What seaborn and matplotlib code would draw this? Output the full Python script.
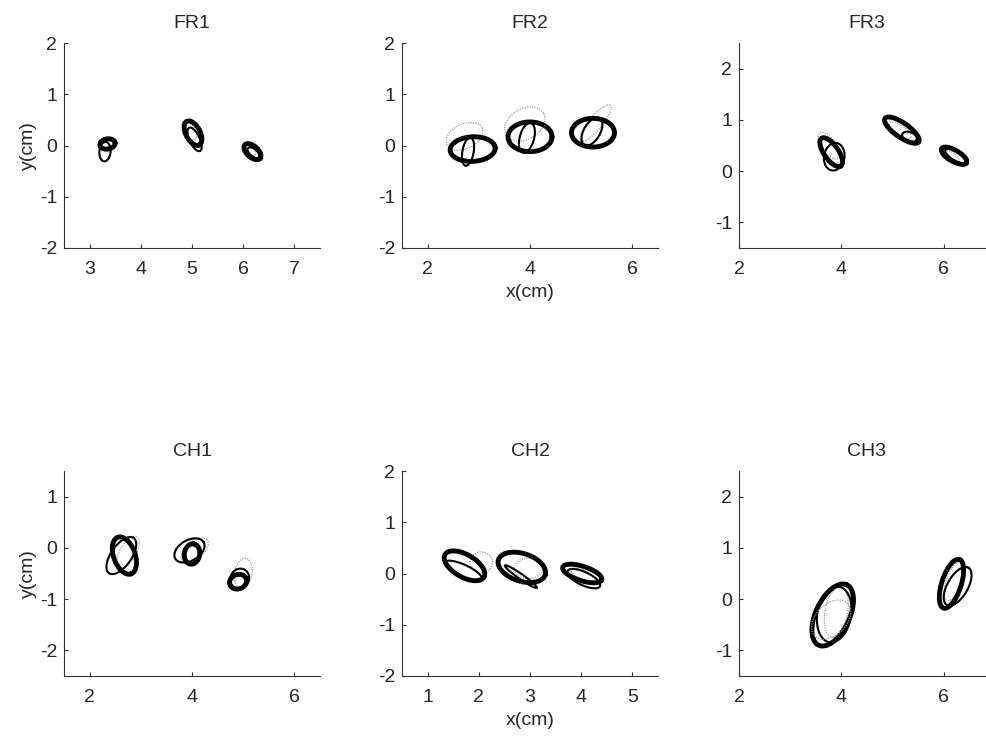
import numpy as np
import pandas as pd
import matplotlib
matplotlib.use("Agg")
import matplotlib.pyplot as plt
import seaborn as sns

# ---------------- data ----------------
panel_names = ["FR1", "FR2", "FR3", "CH1", "CH2", "CH3"]
panel_xlim = [(2.5, 7.5), (1.5, 6.5), (2, 7), (1.5, 6.5), (0.5, 5.5), (2, 7)]
panel_ylim = [(-2, 2), (-2, 2), (-1.5, 2.5), (-2.5, 1.5), (-2, 2), (-1.5, 2.5)]
panel_xticks = [[3, 4, 5, 6, 7], [2, 4, 6], [2, 4, 6], [2, 4, 6], [1, 2, 3, 4, 5], [2, 4, 6]]
panel_yticks = [[-2, -1, 0, 1, 2], [-2, -1, 0, 1, 2], [-1, 0, 1, 2],
                [-2, -1, 0, 1], [-2, -1, 0, 1, 2], [-1, 0, 1, 2]]

# loops: panel, kind, centre x, centre y, semi-axis a, semi-axis b, tilt (deg)
loop_panel = (["FR1"] * 9 + ["FR2"] * 9 + ["FR3"] * 9 +
              ["CH1"] * 9 + ["CH2"] * 9 + ["CH3"] * 7)
loop_kind = ["gray", "thin", "thick"] * 18 + ["thin"]
loop_cx = [3.27, 3.30, 3.35, 4.95, 5.05, 5.02, 6.12, 6.20, 6.18,
           2.72, 2.79, 2.88, 3.90, 3.94, 4.00, 5.28, 5.21, 5.23,
           3.75, 3.86, 3.80, 5.15, 5.33, 5.18, 6.12, 6.25, 6.20,
           2.75, 2.62, 2.68, 4.05, 3.95, 4.00, 5.00, 4.93, 4.90,
           2.05, 1.70, 1.72, 2.97, 2.82, 2.84, 4.10, 4.05, 4.02,
           3.90, 3.86, 3.83, 6.20, 6.27, 6.15, 3.80]
loop_cy = [0.02, -0.12, 0.03, 0.30, 0.12, 0.24, -0.08, -0.14, -0.12,
           0.18, -0.12, -0.07, 0.42, 0.15, 0.17, 0.44, 0.27, 0.25,
           0.50, 0.28, 0.37, 0.80, 0.67, 0.80, 0.28, 0.30, 0.30,
           -0.08, -0.15, -0.15, -0.05, -0.05, -0.12, -0.50, -0.60, -0.66,
           0.22, 0.05, 0.15, 0.10, -0.06, 0.12, -0.04, -0.10, 0.00,
           -0.25, -0.30, -0.31, 0.35, 0.25, 0.30, -0.40]
loop_a = [0.10, 0.19, 0.15, 0.22, 0.25, 0.26, 0.15, 0.14, 0.20,
          0.38, 0.28, 0.44, 0.42, 0.30, 0.43, 0.45, 0.30, 0.42,
          0.30, 0.27, 0.33, 0.25, 0.15, 0.40, 0.20, 0.25, 0.28,
          0.34, 0.42, 0.38, 0.32, 0.32, 0.20, 0.30, 0.20, 0.17,
          0.22, 0.40, 0.44, 0.28, 0.38, 0.48, 0.32, 0.35, 0.40,
          0.50, 0.55, 0.65, 0.40, 0.42, 0.50, 0.45]
loop_b = [0.12, 0.11, 0.10, 0.10, 0.10, 0.14, 0.10, 0.07, 0.11,
          0.24, 0.11, 0.24, 0.30, 0.14, 0.29, 0.13, 0.16, 0.28,
          0.14, 0.20, 0.14, 0.09, 0.09, 0.14, 0.10, 0.10, 0.11,
          0.16, 0.20, 0.21, 0.17, 0.20, 0.15, 0.17, 0.18, 0.14,
          0.20, 0.12, 0.22, 0.20, 0.05, 0.27, 0.10, 0.13, 0.14,
          0.22, 0.33, 0.33, 0.15, 0.20, 0.19, 0.30]
loop_ang = [0, 85, 10, -60, -65, -62, -40, -40, -42,
            25, 80, 3, 30, 75, 0, 50, 60, 0,
            -55, 80, -55, -35, -20, -35, -30, -30, -30,
            60, 55, -70, 40, 30, 80, 80, 60, 20,
            0, -25, -30, 0, -35, -18, -20, -25, -18,
            80, 80, 65, 70, 60, 72, 45]

kind_style = {
    "gray": dict(color="#9a9a9a", lw=0.9, ls=(0, (1, 1))),
    "thin": dict(color="black", lw=1.5, ls="-"),
    "thick": dict(color="black", lw=3.5, ls="-"),
}

# ---------------- figure ----------------
sns.set_style("ticks")
plt.rcParams["font.family"] = ["Liberation Sans", "DejaVu Sans"]
plt.rcParams["xtick.direction"] = "in"
plt.rcParams["ytick.direction"] = "in"
plt.rcParams["axes.unicode_minus"] = False

W, H = 986, 738
fig = plt.figure(figsize=(W / 100, H / 100), dpi=100)

col_left = [64, 402, 739]
row_top = [43, 471]
aw, ah = 256, 205
FS = 14

t = np.linspace(0, 2 * np.pi, 240)
for i, name in enumerate(panel_names):
    r, c = divmod(i, 3)
    left = col_left[c] / W
    bottom = 1 - (row_top[r] + ah) / H
    ax = fig.add_axes([left, bottom, aw / W, ah / H])
    for k in range(len(loop_panel)):
        if loop_panel[k] != name:
            continue
        th = np.deg2rad(loop_ang[k])
        ex = loop_cx[k] + loop_a[k] * np.cos(t) * np.cos(th) - loop_b[k] * np.sin(t) * np.sin(th)
        ey = loop_cy[k] + loop_a[k] * np.cos(t) * np.sin(th) + loop_b[k] * np.sin(t) * np.cos(th)
        st = kind_style[loop_kind[k]]
        sns.lineplot(x=ex, y=ey, sort=False, ax=ax, color=st["color"],
                     linewidth=st["lw"], linestyle=st["ls"], estimator=None)
    ax.set_xlim(*panel_xlim[i])
    ax.set_ylim(*panel_ylim[i])
    ax.set_xticks(panel_xticks[i])
    ax.set_yticks(panel_yticks[i])
    ax.tick_params(labelsize=FS, length=3, width=0.8, color="#333333")
    ax.tick_params(axis="x", pad=9)
    ax.tick_params(axis="y", pad=5)
    for s in ["top", "right"]:
        ax.spines[s].set_visible(False)
    for s in ["left", "bottom"]:
        ax.spines[s].set_color("#333333")
        ax.spines[s].set_linewidth(0.8)
    ax.set_title(name, fontsize=FS, pad=11)
    if c == 0:
        ax.set_ylabel("y(cm)", fontsize=FS, labelpad=2)
    else:
        ax.set_ylabel("")
    if c == 1:
        ax.set_xlabel("x(cm)", fontsize=FS, labelpad=5)
    else:
        ax.set_xlabel("")

fig.savefig("out.png", dpi=100)
